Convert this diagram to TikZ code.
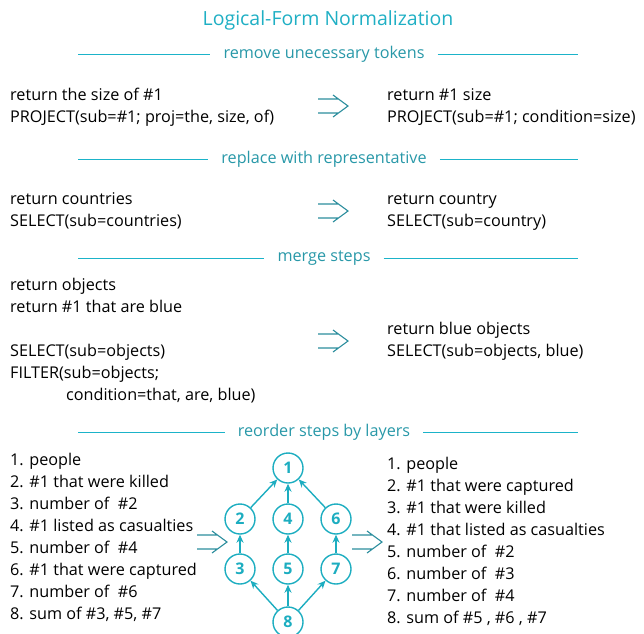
\documentclass[tikz,border=0pt]{standalone}
\usepackage{fontspec}
\setmainfont{Open Sans}
\usetikzlibrary{arrows.meta, positioning}

\definecolor{titleteal}{HTML}{1FAFC4}
\definecolor{headteal}{HTML}{2898A8}
\definecolor{ruleteal}{HTML}{1BB3C9}
\definecolor{nodeteal}{HTML}{1CADC0}
\definecolor{arrowteal}{HTML}{2B8D9D}

\tikzset{
    txt/.style={anchor=base west, inner sep=0pt, font=\fontsize{16.2}{20}\selectfont},
    title/.style={text=titleteal, font=\fontsize{19.5}{24}\selectfont},
    head/.style={text=headteal, inner xsep=13pt, font=\fontsize{16.2}{20}\selectfont},
    rule/.style={draw=ruleteal, line width=1pt},
    stepnode/.style={circle, draw=nodeteal, line width=1.4pt, minimum size=30pt,
        inner sep=0pt, text=nodeteal, font=\fontsize{16}{18}\selectfont\bfseries},
    dep/.style={draw=nodeteal, line width=1.4pt, -{Stealth[length=8pt, width=7pt]}},
    fat/.style={draw=arrowteal, line width=1.1pt}
}

% section header with rules on both sides
\newcommand{\stephead}[3]{%
    \node[head] (#1) at (324,#2) {#3};
    \coordinate (#1-l) at (78,#2);
    \coordinate (#1-r) at (578,#2);
    \draw[rule] (#1-l) -- (#1.west);
    \draw[rule] (#1.east) -- (#1-r);
}

% hollow double arrow starting at a named coordinate
\newcommand{\fatarrow}[2]{%
    \coordinate (#1) at (#2);
    \draw[fat] ([shift={(0,-7)}]#1) -- ++(20.5,0)
        ([shift={(0,7)}]#1) -- ++(20.5,0)
        ([shift={(15,-11)}]#1) -- ([shift={(30,0)}]#1) -- ([shift={(15,11)}]#1);
}

\begin{document}
\begin{tikzpicture}[x=1pt, y=-1pt]
    \useasboundingbox (0,0) rectangle (644,633);

    \node[title] (title) at (328,20) {Logical-Form Normalization};

    % -------------------------------------------------------------
    % remove unnecessary tokens
    % -------------------------------------------------------------
    \stephead{h1}{54}{remove unecessary tokens}
    \node[txt] (a1) at (10,100) {return the size of \#1};
    \node[txt] (a2) at (10,122) {PROJECT(sub=\#1; proj=the, size, of)};
    \fatarrow{f1}{318,106}
    \node[txt] (b1) at (387,100) {return \#1 size};
    \node[txt] (b2) at (387,122) {PROJECT(sub=\#1; condition=size)};

    % -------------------------------------------------------------
    % replace with representative
    % -------------------------------------------------------------
    \stephead{h2}{159}{replace with representative}
    \node[txt] (c1) at (10,204) {return countries};
    \node[txt] (c2) at (10,226) {SELECT(sub=countries)};
    \fatarrow{f2}{318,211}
    \node[txt] (d1) at (387,204) {return country};
    \node[txt] (d2) at (387,226) {SELECT(sub=country)};

    % -------------------------------------------------------------
    % merge steps
    % -------------------------------------------------------------
    \stephead{h3}{258}{merge steps}
    \node[txt] (e1) at (10,290) {return objects};
    \node[txt] (e2) at (10,312) {return \#1 that are blue};
    \node[txt] (e3) at (10,356) {SELECT(sub=objects)};
    \node[txt] (e4) at (10,378) {FILTER(sub=objects;};
    \node[txt] (e5) at (66,400) {condition=that, are, blue)};
    \fatarrow{f3}{318,341}
    \node[txt] (g1) at (387,334) {return blue objects};
    \node[txt] (g2) at (387,356) {SELECT(sub=objects, blue)};

    % -------------------------------------------------------------
    % reorder steps by layers
    % -------------------------------------------------------------
    \stephead{h4}{432}{reorder steps by layers}
    \foreach \t [count=\i] in {{1. people}, {2. \#1 that were killed},
        {3. number of \ \#2}, {4. \#1 listed as casualties}, {5. number of \ \#4},
        {6. \#1 that were captured}, {7. number of \ \#6}, {8. sum of \#3, \#5, \#7}}
        \node[txt] (old-\i) at (10,{443+22*\i}) {\t};
    \foreach \t [count=\i] in {{1. people}, {2. \#1 that were captured},
        {3. \#1 that were killed}, {4. \#1 that listed as casualties},
        {5. number of \ \#2}, {6. number of \ \#3}, {7. number of \ \#4},
        {8. sum of \#5 , \#6 , \#7}}
        \node[txt] (new-\i) at (387,{447+22*\i}) {\t};
    \fatarrow{f4}{197,542}
    \fatarrow{f5}{352,542}

    % dependency graph
    \node[stepnode] (n1) at (288,468) {1};
    \node[stepnode, on grid, below left=51pt and 48pt of n1] (n2) {2};
    \node[stepnode, on grid, below=51pt of n1] (n4) {4};
    \node[stepnode, on grid, below right=51pt and 48pt of n1] (n6) {6};
    \node[stepnode, on grid, below=50pt of n2] (n3) {3};
    \node[stepnode, on grid, below=50pt of n4] (n5) {5};
    \node[stepnode, on grid, below=50pt of n6] (n7) {7};
    \node[stepnode, on grid, below=53pt of n5] (n8) {8};

    \draw[dep] (n8) -- (n3);
    \draw[dep] (n8) -- (n5);
    \draw[dep] (n8) -- (n7);
    \draw[dep] (n3) -- (n2);
    \draw[dep] (n5) -- (n4);
    \draw[dep] (n7) -- (n6);
    \draw[dep] (n2) -- (n1);
    \draw[dep] (n4) -- (n1);
    \draw[dep] (n6) -- (n1);

\end{tikzpicture}
\end{document}
